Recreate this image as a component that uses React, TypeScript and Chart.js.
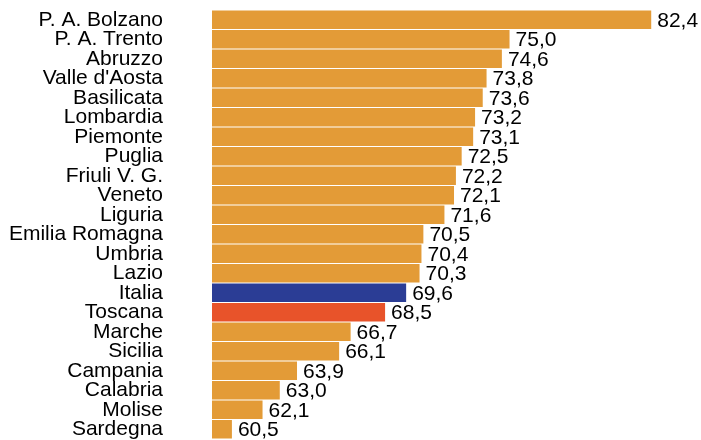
import React, { useEffect, useRef } from "react";
import { Chart, registerables } from "chart.js";

Chart.register(...registerables);

const categories = [
  "P. A. Bolzano", "P. A. Trento", "Abruzzo", "Valle d'Aosta", "Basilicata",
  "Lombardia", "Piemonte", "Puglia", "Friuli V. G.", "Veneto", "Liguria",
  "Emilia Romagna", "Umbria", "Lazio", "Italia", "Toscana", "Marche",
  "Sicilia", "Campania", "Calabria", "Molise", "Sardegna",
];
const values = [
  82.4, 75.0, 74.6, 73.8, 73.6, 73.2, 73.1, 72.5, 72.2, 72.1, 71.6,
  70.5, 70.4, 70.3, 69.6, 68.5, 66.7, 66.1, 63.9, 63.0, 62.1, 60.5,
];

const ORANGE = "#E39B37";
const BLUE = "#2B3D95";
const RED = "#E8532A";
const FONT = "Arial, 'Liberation Sans', sans-serif";

const barColors = categories.map((c) =>
  c === "Italia" ? BLUE : c === "Toscana" ? RED : ORANGE
);

const valueLabels = {
  id: "valueLabels",
  afterDatasetsDraw(chart: any) {
    const ctx = chart.ctx;
    const meta = chart.getDatasetMeta(0);
    ctx.save();
    ctx.font = `21px ${FONT}`;
    ctx.fillStyle = "#000";
    ctx.textAlign = "left";
    ctx.textBaseline = "middle";
    meta.data.forEach((bar: any, i: number) => {
      const txt = values[i].toFixed(1).replace(".", ",");
      ctx.fillText(txt, bar.x + 6, bar.y + 1);
    });
    ctx.restore();
  },
};

export default function App() {
  const ref = useRef<HTMLCanvasElement>(null);
  useEffect(() => {
    const chart = new Chart(ref.current!, {
      type: "bar",
      data: {
        labels: categories,
        datasets: [
          {
            data: values,
            backgroundColor: barColors,
            borderWidth: 0,
            barPercentage: 0.96,
            categoryPercentage: 1,
          },
        ],
      },
      options: {
        indexAxis: "y",
        animation: false,
        responsive: true,
        maintainAspectRatio: false,
        layout: { padding: { top: 10, bottom: 1, left: 0, right: 0 } },
        plugins: { legend: { display: false }, tooltip: { enabled: false } },
        scales: {
          x: {
            display: false,
            min: 59.46,
            max: 85,
          },
          y: {
            grid: { display: false, drawTicks: false },
            border: { display: false },
            ticks: {
              padding: 49,
              color: "#000",
              font: { family: FONT, size: 21 },
              autoSkip: false,
            },
            afterFit(scale: any) {
              scale.width = 212;
              scale.paddingTop = 0;
              scale.paddingBottom = 0;
            },
          },
        },
      },
      plugins: [valueLabels],
    });
    return () => chart.destroy();
  }, []);
  return (
    <div style={{ position: "absolute", left: 0, top: 0, width: 701, height: 440, background: "#fff" }}>
      <canvas ref={ref} style={{ display: "block" }} />
    </div>
  );
}
